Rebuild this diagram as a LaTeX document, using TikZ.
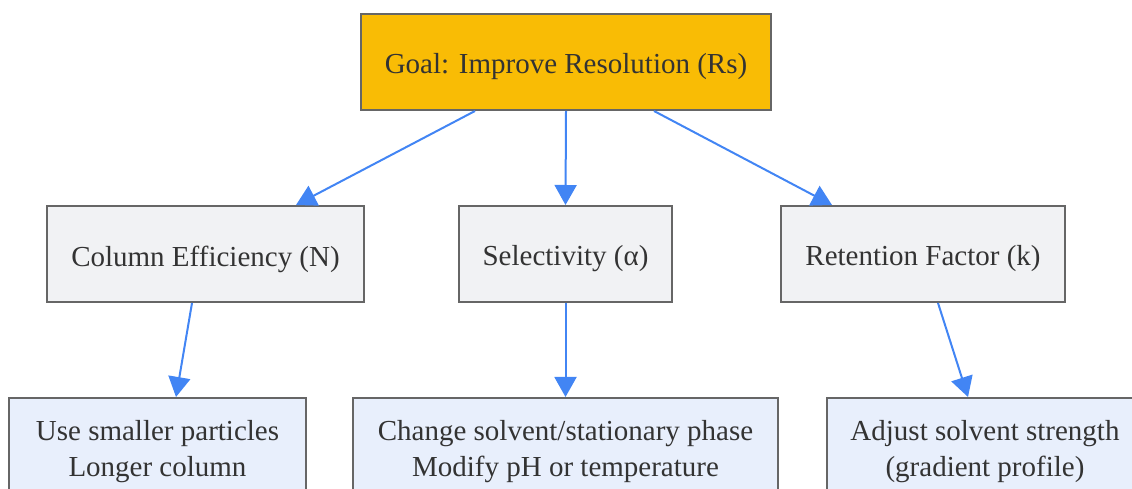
\documentclass[tikz,border=0pt]{standalone}
\usepackage{fontspec}
\setmainfont{Liberation Serif}
\usetikzlibrary{arrows.meta,calc}
\definecolor{goalfill}{HTML}{F9BC05}
\definecolor{grayfill}{HTML}{F1F2F4}
\definecolor{bluefill}{HTML}{E8EFFC}
\definecolor{edgegray}{HTML}{666666}
\definecolor{txt}{HTML}{333333}
\definecolor{arrowblue}{HTML}{4285F4}
\newcommand{\lowered}[1]{\raisebox{-5pt}[\height][\depth]{#1}}
\tikzset{
  box/.style={draw=edgegray, line width=2pt, rectangle, align=center, text=txt,
    font=\fontsize{29}{36}\selectfont, inner sep=0pt},
  goalbox/.style={box, fill=goalfill},
  midbox/.style={box, fill=grayfill},
  leafbox/.style={box, fill=bluefill},
  conn/.style={draw=arrowblue, line width=2pt, -{Triangle[length=20pt,width=22pt]}}
}
\begin{document}
\begin{tikzpicture}[x=1pt,y=1pt]
\useasboundingbox (0,0) rectangle (1132,489);
\clip (0,0) rectangle (1132,489);
\node[goalbox, minimum width=410pt, minimum height=96pt] (goal) at (566,427) {\lowered{Goal: Improve Resolution (Rs)}};
\node[midbox, minimum width=317pt, minimum height=96pt] (col) at (205.5,235) {\lowered{Column Efficiency (N)}};
\node[midbox, minimum width=213pt, minimum height=96pt] (sel) at (565.5,235) {\lowered{Selectivity (α)}};
\node[midbox, minimum width=284pt, minimum height=96pt] (ret) at (923,235) {\lowered{Retention Factor (k)}};
\node[leafbox, minimum width=297pt, minimum height=108pt] (use) at (157.5,37) {Use smaller particles\\Longer column};
\node[leafbox, minimum width=425pt, minimum height=108pt] (chg) at (565.5,37) {Change solvent/stationary phase\\Modify pH or temperature};
\node[leafbox, minimum width=316pt, minimum height=108pt] (adj) at (985,37) {Adjust solvent strength\\(gradient profile)};
\draw[conn] ($(goal.south west)+(115,0)$) -- ($(col.north west)+(250,0)$);
\draw[conn] (goal.south) -- (sel.north);
\draw[conn] ($(goal.south west)+(294,0)$) -- ($(ret.north west)+(52,0)$);
\draw[conn] ($(col.south west)+(146,0)$) -- ($(use.north west)+(168,0)$);
\draw[conn] (sel.south) -- (chg.north);
\draw[conn] ($(ret.south west)+(158,0)$) -- ($(adj.north west)+(142,0)$);
\end{tikzpicture}
\end{document}
